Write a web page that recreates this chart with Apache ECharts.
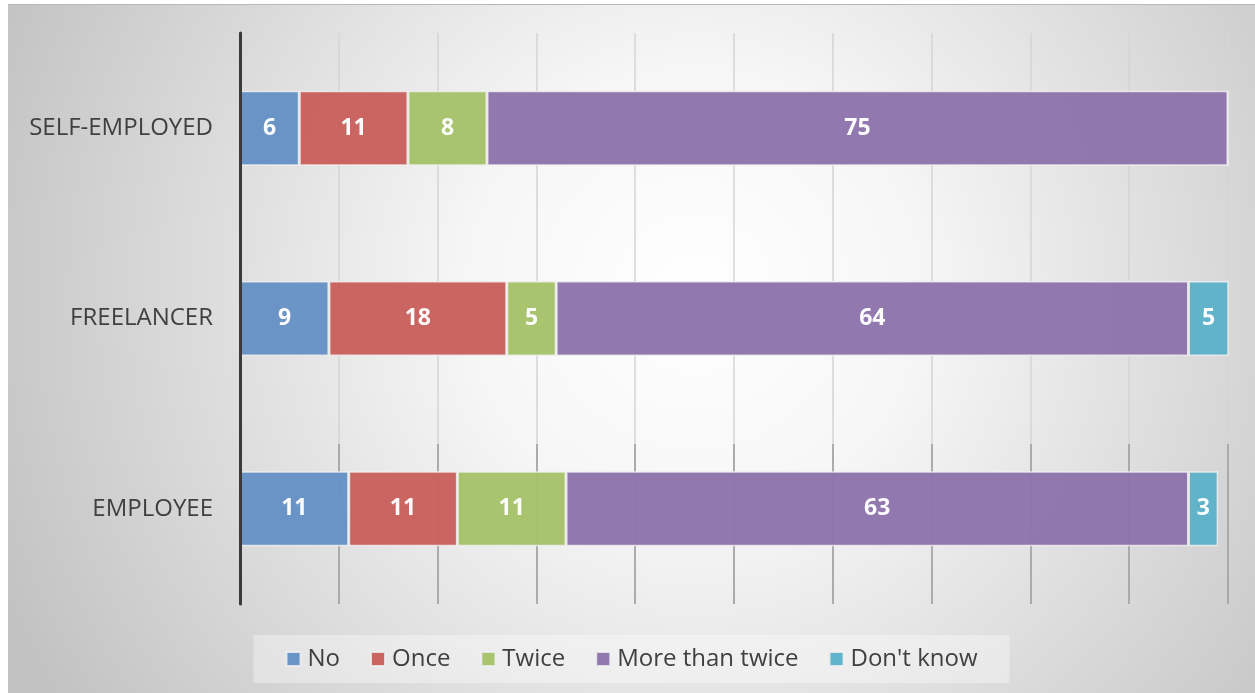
<!DOCTYPE html>
<html>
<head>
<meta charset="utf-8">
<script src="https://cdn.jsdelivr.net/npm/echarts@6/dist/echarts.min.js"></script>
<style>
  html, body { margin: 0; padding: 0; background: #ffffff; }
  #chart {
    position: absolute; left: 8px; top: 4px; width: 1247px; height: 688px;
    border-top: 1px solid #b8b8b8;
  }
</style>
</head>
<body>
<div id="chart"></div>
<script>
// Worker groups, top to bottom
const categories = ['SELF-EMPLOYED', 'FREELANCER', 'EMPLOYEE'];

// Answer shares (%) per group
const seriesNames = ['No', 'Once', 'Twice', 'More than twice', "Don't know"];
const noValues = [6, 9, 11];
const onceValues = [11, 18, 11];
const twiceValues = [8, 5, 11];
const moreValues = [75, 64, 63];
const dontKnowValues = [0, 5, 3];

const seriesValues = [noValues, onceValues, twiceValues, moreValues, dontKnowValues];
const colors = ['#6691c5', '#c8605d', '#a5c26a', '#8d74ab', '#5db2c8'];

const font = '"Open Sans", "Noto Sans", sans-serif';

const chart = echarts.init(document.getElementById('chart'), null, { renderer: 'canvas' });

chart.setOption({
  backgroundColor: {
    type: 'radial', x: 0.55, y: 0.42, r: 1.1,
    colorStops: [
      { offset: 0, color: '#ffffff' },
      { offset: 0.3, color: '#f6f6f6' },
      { offset: 1, color: '#c2c2c2' }
    ]
  },
  animation: false,
  grid: { left: 232, right: 27, top: 28, bottom: 89, containLabel: false },
  legend: {
    data: seriesNames,
    bottom: 10,
    left: 'center',
    itemWidth: 14,
    itemHeight: 14,
    itemGap: 30,
    icon: 'rect',
    padding: [12, 32, 12, 32],
    backgroundColor: 'rgba(255,255,255,0.35)',
    textStyle: { fontFamily: font, fontSize: 24, color: '#404040', padding: [0, 0, 0, 2] }
  },
  xAxis: {
    type: 'value', min: 0, max: 100, interval: 10,
    axisLine: { show: false },
    axisLabel: { show: false },
    axisTick: { show: true, inside: true, length: 160, lineStyle: { color: '#9c9c9c', width: 1.5 } },
    splitLine: { show: true, lineStyle: { color: '#d4d4d4', width: 1.5 } }
  },
  yAxis: {
    type: 'category', data: categories, inverse: true, z: 5,
    axisLine: { show: true, lineStyle: { color: '#3a3a3a', width: 3 } },
    axisTick: { show: false },
    axisLabel: { fontFamily: font, fontSize: 24, color: '#404040', margin: 27 }
  },
  series: seriesNames.map((name, i) => ({
    name: name,
    type: 'bar',
    stack: 'total',
    barWidth: 75,
    clip: true,
    data: seriesValues[i],
    itemStyle: {
      color: colors[i],
      opacity: 0.97,
      borderColor: 'rgba(240,240,240,0.85)',
      borderWidth: 1.5
    },
    label: {
      show: true, position: 'inside',
      color: '#ffffff', fontFamily: font, fontWeight: 'bold', fontSize: 23,
      formatter: p => (p.value ? String(p.value) : '')
    }
  }))
});
</script>
</body>
</html>
